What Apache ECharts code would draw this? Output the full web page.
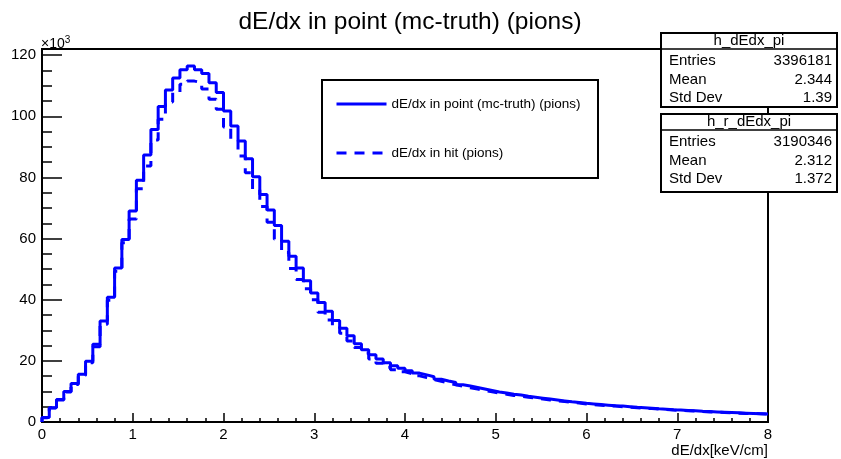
<!DOCTYPE html>
<html>
<head>
<meta charset="utf-8">
<script src="https://cdn.jsdelivr.net/npm/echarts@6/dist/echarts.min.js"></script>
<style>
  html, body { margin: 0; padding: 0; background: #fff; }
  #main { width: 841px; height: 459px; }
</style>
</head>
<body>
<div id="main"></div>
<script>
// histogram binning: 100 bins of 0.08 keV/cm from 0 to 8
var binWidth = 0.08;
var xMax = 8;

// counts per bin, x10^3
var pointCounts = [
  1.5, 4.7, 7.4, 10.0, 12.6, 15.6, 19.9, 25.4, 33.0, 40.8,
  50.4, 59.7, 69.0, 79.1, 87.3, 95.7, 103.2, 108.6, 112.5, 115.2,
  116.4, 115.2, 114.0, 111.0, 107.8, 101.7, 96.8, 91.9, 86.1, 80.2,
  74.4, 69.3, 64.3, 59.1, 54.2, 50.4, 46.2, 42.2, 39.1, 36.2,
  33.2, 30.7, 28.2, 25.6, 23.6, 22.0, 20.6, 19.4, 18.4, 17.6,
  16.8, 16.0, 15.4, 14.8, 14.0, 13.4, 12.9, 12.2, 11.8, 11.3,
  10.8, 10.3, 9.8, 9.5, 9.1, 8.8, 8.4, 8.1, 7.8, 7.5,
  7.2, 6.9, 6.6, 6.4, 6.1, 5.9, 5.7, 5.5, 5.3, 5.2,
  5.0, 4.8, 4.7, 4.5, 4.3, 4.2, 4.0, 3.9, 3.8, 3.7,
  3.5, 3.4, 3.3, 3.2, 3.1, 3.0, 2.9, 2.8, 2.7, 2.6
];
var hitCounts = [
  1.4, 4.6, 7.2, 9.8, 12.3, 15.2, 19.4, 24.6, 32.0, 39.8,
  49.3, 58.6, 66.4, 76.3, 83.7, 92.2, 99.0, 104.7, 107.8, 110.5,
  111.5, 111.0, 108.9, 105.6, 102.3, 96.5, 92.1, 87.0, 81.5, 76.0,
  70.5, 65.3, 59.8, 55.4, 50.2, 46.6, 43.6, 40.0, 35.9, 33.4,
  31.2, 29.0, 26.5, 24.4, 22.6, 20.6, 19.2, 17.9, 17.1, 16.4,
  15.8, 15.1, 14.5, 13.9, 13.3, 12.7, 12.2, 11.7, 11.2, 10.8,
  10.3, 9.9, 9.4, 9.1, 8.7, 8.4, 8.1, 7.8, 7.5, 7.2,
  6.9, 6.7, 6.4, 6.2, 5.9, 5.7, 5.5, 5.3, 5.2, 5.0,
  4.8, 4.7, 4.5, 4.4, 4.2, 4.1, 3.9, 3.8, 3.7, 3.6,
  3.4, 3.3, 3.2, 3.1, 3.0, 2.9, 2.8, 2.8, 2.7, 2.6
];

var seriesNames = ['dE/dx in point (mc-truth) (pions)', 'dE/dx in hit (pions)'];
var xTicks = [0, 1, 2, 3, 4, 5, 6, 7, 8];
var yTicks = [0, 20, 40, 60, 80, 100, 120];

var statsPoint = { name: 'h_dEdx_pi', entries: '3396181', mean: '2.344', std: '1.39' };
var statsHit = { name: 'h_r_dEdx_pi', entries: '3190346', mean: '2.312', std: '1.372' };

// bin low edges -> step points, closed at x=0 and x=8
function toSteps(vals) {
    var pts = [[0, 0]];
    vals.forEach(function (v, i) {
        pts.push([+(i * binWidth).toFixed(2), v]);
    });
    pts.push([xMax, vals[vals.length - 1]]);
    return pts;
}

var font = 'Liberation Sans, Arial, Helvetica, sans-serif';

function statsBox(s, top, h) {
    var left = 661, w = 176;
    var f = '15px ' + font;
    return {
        type: 'group',
        z: 100,
        children: [
            { type: 'rect', shape: { x: left, y: top, width: w, height: h },
              style: { fill: '#fff', stroke: '#000', lineWidth: 2 } },
            { type: 'line', shape: { x1: left, y1: top + 16, x2: left + w, y2: top + 16 },
              style: { stroke: '#000', lineWidth: 1.5 } },
            { type: 'text', x: left + w / 2, y: top + 8,
              style: { text: s.name, font: f, fill: '#000', align: 'center', verticalAlign: 'middle' } },
            { type: 'text', x: left + 8, y: top + 28,
              style: { text: 'Entries', font: f, fill: '#000', verticalAlign: 'middle' } },
            { type: 'text', x: left + w - 5, y: top + 28,
              style: { text: s.entries, font: f, fill: '#000', align: 'right', verticalAlign: 'middle' } },
            { type: 'text', x: left + 8, y: top + 47,
              style: { text: 'Mean', font: f, fill: '#000', verticalAlign: 'middle' } },
            { type: 'text', x: left + w - 5, y: top + 47,
              style: { text: s.mean, font: f, fill: '#000', align: 'right', verticalAlign: 'middle' } },
            { type: 'text', x: left + 8, y: top + 65,
              style: { text: 'Std Dev', font: f, fill: '#000', verticalAlign: 'middle' } },
            { type: 'text', x: left + w - 5, y: top + 65,
              style: { text: s.std, font: f, fill: '#000', align: 'right', verticalAlign: 'middle' } }
        ]
    };
}

var myChart = echarts.init(document.getElementById('main'), null, { renderer: 'canvas' });

var option = {
    animation: false,
    backgroundColor: '#fff',
    textStyle: { fontFamily: font },
    title: {
        text: 'dE/dx in point (mc-truth) (pions)',
        left: 405,
        top: 5,
        textAlign: 'center',
        textStyle: { fontSize: 24.5, fontWeight: 'normal', color: '#000', fontFamily: font }
    },
    grid: {
        left: 42, right: 73, top: 49, bottom: 37,
        show: true, borderColor: '#000', borderWidth: 2, backgroundColor: 'transparent'
    },
    legend: {
        orient: 'vertical',
        left: 335,
        top: 97,
        itemWidth: 50,
        itemHeight: 14,
        itemGap: 35,
        padding: 0,
        itemStyle: { opacity: 0 },
        lineStyle: { width: 3 },
        textStyle: { fontSize: 13.5, color: '#000', fontFamily: font },
        data: seriesNames
    },
    xAxis: {
        type: 'value',
        min: 0,
        max: xMax,
        interval: 1,
        name: 'dE/dx[keV/cm]',
        nameLocation: 'end',
        nameGap: 0,
        nameTextStyle: { fontSize: 15, color: '#000', align: 'right', verticalAlign: 'top', padding: [21, 0, 0, 0] },
        axisLine: { lineStyle: { color: '#000', width: 2 } },
        axisTick: { inside: true, length: 9, lineStyle: { color: '#000', width: 1.5 } },
        minorTick: { show: true, splitNumber: 5, length: 4, lineStyle: { color: '#000', width: 1.5 } },
        splitLine: { show: false },
        axisLabel: {
            color: '#000', fontSize: 15, margin: 5, showMaxLabel: true,
            formatter: function (v) { return xTicks.indexOf(v) >= 0 ? String(v) : ''; }
        }
    },
    yAxis: {
        type: 'value',
        min: 0,
        max: 122,
        interval: 20,
        axisLine: { show: true, lineStyle: { color: '#000', width: 2 } },
        axisTick: { inside: true, length: 20, lineStyle: { color: '#000', width: 1.5 } },
        minorTick: { show: true, splitNumber: 4, length: 10, lineStyle: { color: '#000', width: 1.5 } },
        splitLine: { show: false },
        axisLabel: {
            color: '#000', fontSize: 15, margin: 6,
            formatter: function (v) { return yTicks.indexOf(v) >= 0 ? String(v) : ''; }
        }
    },
    series: [
        {
            name: seriesNames[0],
            type: 'line',
            step: 'end',
            symbol: 'none',
            data: toSteps(pointCounts),
            lineStyle: { color: '#0000ff', width: 3 },
            itemStyle: { color: '#0000ff' },
            z: 3
        },
        {
            name: seriesNames[1],
            type: 'line',
            step: 'end',
            symbol: 'none',
            data: toSteps(hitCounts),
            lineStyle: { color: '#0000ff', width: 3, type: [10, 8] },
            itemStyle: { color: '#0000ff' },
            z: 2
        }
    ],
    graphic: [
        { type: 'rect', shape: { x: 322, y: 80, width: 276, height: 98 },
          style: { fill: 'none', stroke: '#000', lineWidth: 2 }, z: 50 },
        { type: 'text', x: 41, y: 44,
          style: { text: '×10{s|3}', font: '14px ' + font, fill: '#000', verticalAlign: 'middle',
                   rich: { s: { fontSize: 10, verticalAlign: 'top', padding: [0, 0, 8, 0] } } } },
        statsBox(statsPoint, 33, 74),
        statsBox(statsHit, 114, 78)
    ]
};

myChart.setOption(option);
</script>
</body>
</html>
